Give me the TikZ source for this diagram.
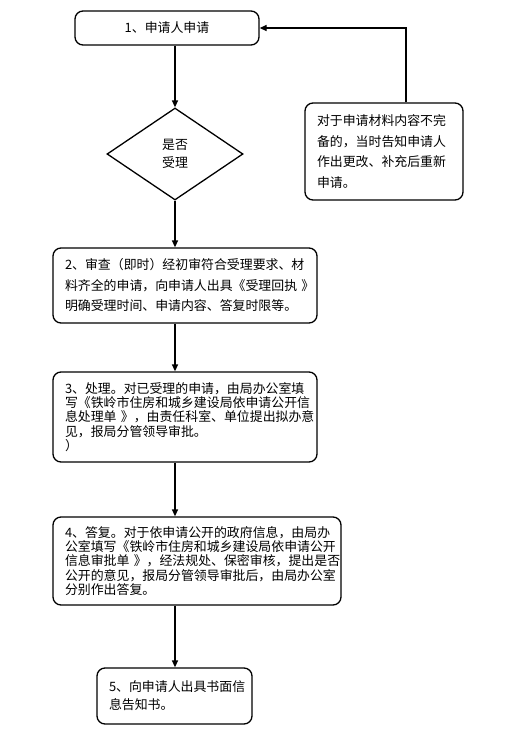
\documentclass[tikz,border=0pt]{standalone}
\usepackage{fontspec}
\setmainfont{Noto Sans CJK SC}
\usetikzlibrary{shapes.geometric,arrows.meta}
\begin{document}
\begin{tikzpicture}[x=1pt,y=-1pt,
  box/.style={draw, line width=1.3pt, rounded corners=8pt, inner xsep=12pt, inner ysep=0pt, align=left},
  arr/.style={-{Triangle[length=7pt,width=6pt]}, line width=1.3pt},
  wide/.style={font=\fontsize{12.9}{20.5}\selectfont},
  tight/.style={font=\fontsize{12.9}{14.2}\selectfont}]
\useasboundingbox (0,0) rectangle (515,737);
\fill[white] (0,0) rectangle (515,737);

\node[box, align=center, minimum width=184pt, minimum height=34pt, font=\fontsize{12.9}{15}\selectfont] (b1) at (167,28) {1、申请人申请};

\node[draw, diamond, line width=1.3pt, minimum width=136pt, minimum height=92pt, inner sep=0pt, align=center, font=\fontsize{12.9}{18}\selectfont] (d) at (175,154) {是否\\受理};

\node[box, wide, text width=134pt, minimum width=158pt, minimum height=97pt] (r) at (384,151.5)
  {对于申请材料内容不完\\备的，当时告知申请人\\作出更改、补充后重新\\申请。};

\node[box, wide, text width=240pt, minimum width=264pt, minimum height=75pt] (b2) at (185,285.5)
  {2、审查（即时）经初审符合受理要求、材\\料齐全的申请，向申请人出具《受理回执~》\\明确受理时间、申请内容、答复时限等。};

\node[box, tight, text width=240pt, minimum width=264pt, minimum height=90pt] (b3) at (185,417)
  {3、处理。对已受理的申请，由局办公室填\\写《铁岭市住房和城乡建设局依申请公开信\\息处理单~》，由责任科室、单位提出拟办意\\见，报局分管领导审批。\\）};

\node[box, tight, text width=264pt, minimum width=288pt, minimum height=88pt] (b4) at (197,561)
  {4、答复。对于依申请公开的政府信息，由局办\\公室填写《铁岭市住房和城乡建设局依申请公开\\信息审批单~》，经法规处、保密审核，提出是否\\公开的意见，报局分管领导审批后，由局办公室\\分别作出答复。};

\node[box, font=\fontsize{12.9}{18}\selectfont, text width=131pt, minimum width=155pt, minimum height=56pt] (b5) at (174.5,696)
  {5、向申请人出具书面信\\息告知书。};

\draw[arr] (b1.south -| d.north) -- (d.north);
\draw[arr] (d.south) -- (d.south |- b2.north);
\draw[arr] (b2.south -| d.south) -- (b3.north -| d.south);
\draw[arr] (b3.south -| d.south) -- (b4.north -| d.south);
\draw[arr] (b4.south -| d.south) -- (b5.north -| d.south);
\coordinate (rt) at ([xshift=22pt]r.north);
\draw[arr] (rt) |- (b1.east);
\end{tikzpicture}
\end{document}
